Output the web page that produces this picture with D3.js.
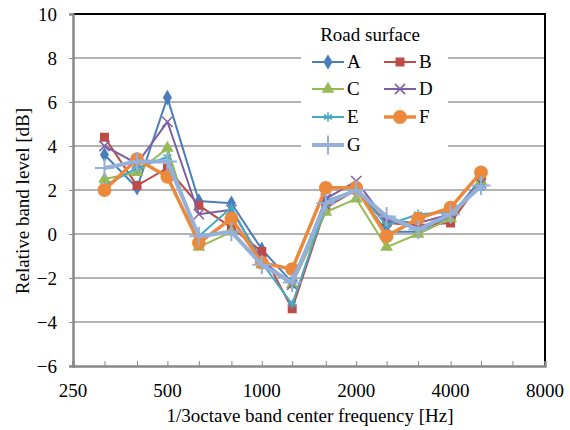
<!DOCTYPE html>
<html>
<head>
<meta charset="utf-8">
<script src="https://cdn.jsdelivr.net/npm/d3@7"></script>
<style>
body { margin: 0; background: #fff; }
text { font-family: "Liberation Serif", "Times New Roman", serif; fill: #000; }
</style>
</head>
<body>
<div id="chart"></div>
<script>
// 1/3 octave band centres
var freqs = [315, 400, 500, 630, 800, 1000, 1250, 1600, 2000, 2500, 3150, 4000, 5000];
var xTicks = [250, 500, 1000, 2000, 4000, 8000];
var yTicks = [-6, -4, -2, 0, 2, 4, 6, 8, 10];
var minorTicks = [250, 315, 400, 500, 630, 800, 1000, 1250, 1600, 2000, 2500, 3150, 4000, 5000, 6300, 8000];

var surfaces = ['A', 'B', 'C', 'D', 'E', 'F', 'G'];
var valsA = [3.6, 2.1, 6.2, 1.5, 1.4, -0.7, -2.2, 1.5, 2.0, 0.1, 0.1, 0.8, 2.5];
var valsB = [4.4, 2.2, 3.0, 1.3, 0.3, -0.8, -3.4, 1.2, 2.0, 0.5, 0.4, 0.5, 2.4];
var valsC = [2.5, 2.8, 3.9, -0.6, 0.1, -1.4, -2.3, 1.0, 1.6, -0.6, 0.0, 0.7, 2.4];
var valsD = [4.0, 3.2, 5.1, 0.9, 1.1, -1.2, -2.3, 1.6, 2.4, 0.6, 0.5, 0.9, 2.3];
var valsE = [2.2, 3.0, 3.5, -0.1, 1.2, -1.3, -3.2, 1.3, 2.0, 0.4, 0.9, 1.0, 2.1];
var valsF = [2.0, 3.4, 2.6, -0.4, 0.7, -1.3, -1.6, 2.1, 2.1, -0.1, 0.7, 1.2, 2.8];
var valsG = [3.0, 3.3, 3.3, -0.1, 0.1, -1.4, -2.2, 1.4, 2.0, 0.8, 0.2, 0.9, 2.2];
var allVals = [valsA, valsB, valsC, valsD, valsE, valsF, valsG];

var colors = ['#4A7EBB', '#BE4B48', '#98B954', '#7D60A0', '#46AAC5', '#EB8A3C', '#95B0DA'];
var symbols = ['diamond', 'square', 'triangle', 'x', 'star', 'circle', 'plus'];
var widths = [2, 2, 2, 2, 2, 3.5, 4];

var W = 570, H = 430;
var pLeft = 73, pRight = 545, pTop = 14, pBottom = 366;
var fs = '19px';

var svg = d3.select('#chart').append('svg')
	.attr('width', W)
	.attr('height', H);

var x = d3.scaleLog().base(2).domain([250, 8000]).range([pLeft, pRight]);
var y = d3.scaleLinear().domain([-6, 10]).range([pBottom, pTop]);

// gridlines
svg.append('g')
	.selectAll('line')
	.data(yTicks.filter(function(d){ return d > -6 && d < 10; }))
	.enter().append('line')
	.attr('x1', pLeft).attr('x2', pRight)
	.attr('y1', function(d){ return y(d); })
	.attr('y2', function(d){ return y(d); })
	.attr('stroke', '#9a9a9a')
	.attr('stroke-width', 1.5);

// frame: top and right black
svg.append('path')
	.attr('d', 'M' + pLeft + ',' + pTop + 'H' + pRight + 'V' + pBottom)
	.attr('fill', 'none')
	.attr('stroke', '#000')
	.attr('stroke-width', 2);

// y axis
var yAxis = svg.append('g')
	.attr('transform', 'translate(' + pLeft + ',0)')
	.call(d3.axisLeft(y).tickValues(yTicks).tickSize(4).tickPadding(12));
yAxis.select('.domain').attr('stroke', '#888').attr('stroke-width', 2.5);
yAxis.selectAll('.tick line').attr('stroke', '#888');
yAxis.selectAll('text').style('font-size', fs).style('font-family', '"Liberation Serif", serif');

// x axis with 1/3 octave ticks pointing up
var xAxis = svg.append('g')
	.attr('transform', 'translate(0,' + pBottom + ')')
	.call(d3.axisBottom(x).tickValues(minorTicks).tickSize(-5).tickFormat(''));
xAxis.select('.domain').attr('stroke', '#888').attr('stroke-width', 2.5);
xAxis.selectAll('.tick line').attr('stroke', '#888');

svg.append('g')
	.selectAll('text')
	.data(xTicks)
	.enter().append('text')
	.attr('x', function(d){ return x(d); })
	.attr('y', pBottom + 31)
	.attr('text-anchor', 'middle')
	.style('font-size', fs)
	.text(function(d){ return d; });

// axis titles
svg.append('text')
	.attr('x', 310)
	.attr('y', 422)
	.attr('text-anchor', 'middle')
	.style('font-size', fs)
	.text('1/3octave band center frequency [Hz]');

svg.append('text')
	.attr('transform', 'translate(29,201) rotate(-90)')
	.attr('text-anchor', 'middle')
	.style('font-size', fs)
	.text('Relative band level [dB]');

// legend background
var lg = svg.append('g');
lg.append('rect')
	.attr('x', 301).attr('y', 20)
	.attr('width', 147).attr('height', 150)
	.attr('fill', '#fff');
lg.append('text')
	.attr('x', 370).attr('y', 41)
	.attr('text-anchor', 'middle')
	.style('font-size', fs)
	.text('Road surface');

function symPath(i, size) {
	var s = symbols[i];
	if (s === 'x') return d3.symbol().type(d3.symbolX).size(size)();
	if (s === 'star') return d3.symbol().type(d3.symbolAsterisk).size(size)();
	if (s === 'plus') return d3.symbol().type(d3.symbolPlus).size(size)();
	var t = {diamond: d3.symbolDiamond, square: d3.symbolSquare, triangle: d3.symbolTriangle, circle: d3.symbolCircle}[s];
	return d3.symbol().type(t).size(size)();
}
var symSizes = [70, 80, 70, 70, 60, 150, 120];
function isStroke(i){ return symbols[i] === 'x' || symbols[i] === 'star' || symbols[i] === 'plus'; }

function drawMarker(g, i, cx, cy) {
	var p = g.append('path')
		.attr('d', symPath(i, symSizes[i]))
		.attr('transform', 'translate(' + cx + ',' + cy + ')');
	if (isStroke(i)) {
		p.attr('fill', 'none').attr('stroke', colors[i]).attr('stroke-width', symbols[i] === 'plus' ? 2 : 1.5);
	} else {
		p.attr('fill', colors[i]);
	}
}

var legRows = [62, 89, 117, 145];
surfaces.forEach(function(name, i){
	var col = i % 2, row = Math.floor(i / 2);
	var x0 = col === 0 ? 312 : 384;
	var yy = legRows[row];
	lg.append('line')
		.attr('x1', x0).attr('x2', x0 + 32)
		.attr('y1', yy).attr('y2', yy)
		.attr('stroke', colors[i])
		.attr('stroke-width', widths[i]);
	drawMarker(lg, i, x0 + 16, yy);
	lg.append('text')
		.attr('x', x0 + 35)
		.attr('y', yy + 6)
		.style('font-size', fs)
		.text(name);
});

// series
var line = d3.line()
	.x(function(d, j){ return x(freqs[j]); })
	.y(function(d){ return y(d); });

allVals.forEach(function(vals, i){
	var g = svg.append('g');
	g.append('path')
		.attr('d', line(vals))
		.attr('fill', 'none')
		.attr('stroke', colors[i])
		.attr('stroke-width', widths[i])
		.attr('stroke-linejoin', 'round');
	vals.forEach(function(v, j){
		drawMarker(g, i, x(freqs[j]), y(v));
	});
});
</script>
</body>
</html>
